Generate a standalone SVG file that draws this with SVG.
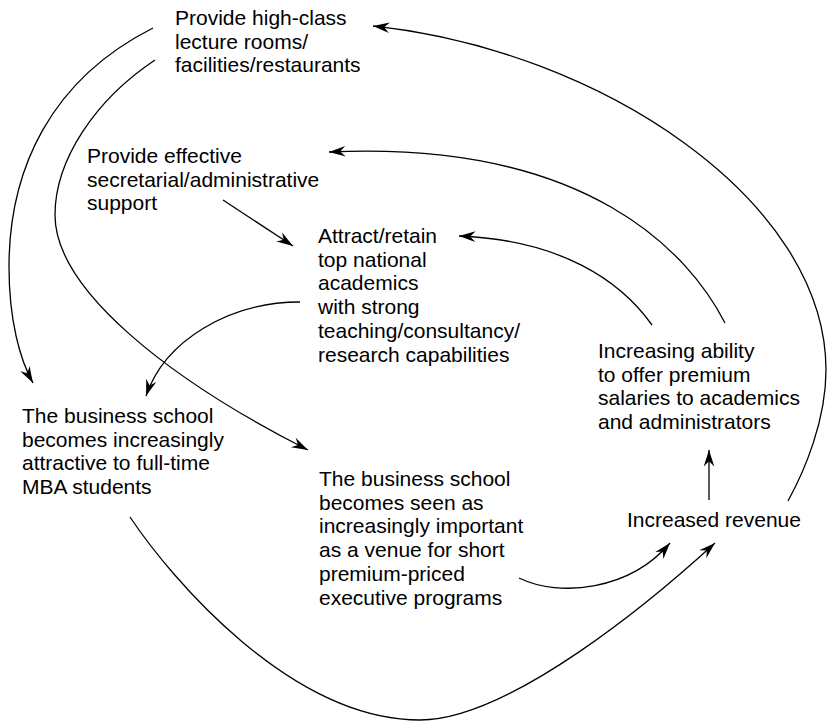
<svg xmlns="http://www.w3.org/2000/svg" width="827" height="723" viewBox="0 0 827 723">
<style>
  text { font-family: "Liberation Sans", Arial, Helvetica, sans-serif; font-size: 21px; fill: #000; }
  .c { fill: none; stroke: #000; stroke-width: 1.3; marker-end: url(#ah); }
</style>
<defs>
  <marker id="ah" markerUnits="userSpaceOnUse" markerWidth="20" markerHeight="20" viewBox="-15 -8 17 16" refX="0" refY="0" orient="auto">
    <path d="M0,0 L-14,-4.5 L-9.5,0 L-14,4.5 Z" fill="#000"/>
  </marker>
</defs>
<rect width="827" height="723" fill="#fff"/>
<g id="connectors">
  <path class="c" d="M153,28 C50,80 9,170 9,267 C9,320 20,360 33,383"/>
  <path class="c" d="M155,60 C95,100 55,160 55,215 C55,290 170,380 308,450"/>
  <path class="c" d="M223,200 L293,246"/>
  <path class="c" d="M300,302 C230,302 165,340 146,396"/>
  <path class="c" d="M652,325 C620,280 560,240 459,236"/>
  <path class="c" d="M725,323 C690,255 590,140 329,152"/>
  <path class="c" d="M788,501 C805,470 826,420 826,370 C826,200 600,50 373,26"/>
  <path class="c" d="M709,500 L709,450"/>
  <path class="c" d="M519,578 C560,598 630,590 670,543"/>
  <path class="c" d="M130,517 C170,577 290,720 420,720 C510,720 655,598 715,543"/>
</g>
<g id="n1">
  <text x="175" y="25">Provide high-class</text>
  <text x="175" y="48.7">lecture rooms/</text>
  <text x="175" y="72.4">facilities/restaurants</text>
</g>
<g id="n2">
  <text x="87" y="163">Provide effective</text>
  <text x="87" y="186.7">secretarial/administrative</text>
  <text x="87" y="210.4">support</text>
</g>
<g id="n3">
  <text x="318" y="243">Attract/retain</text>
  <text x="318" y="266.7">top national</text>
  <text x="318" y="290.4">academics</text>
  <text x="318" y="314.1">with strong</text>
  <text x="318" y="337.8">teaching/consultancy/</text>
  <text x="318" y="361.5">research capabilities</text>
</g>
<g id="n4">
  <text x="598" y="358">Increasing ability</text>
  <text x="598" y="381.7">to offer premium</text>
  <text x="598" y="405.4">salaries to academics</text>
  <text x="598" y="429.1">and administrators</text>
</g>
<g id="n5">
  <text x="22" y="423">The business school</text>
  <text x="22" y="446.7">becomes increasingly</text>
  <text x="22" y="470.4">attractive to full-time</text>
  <text x="22" y="494.1">MBA students</text>
</g>
<g id="n6">
  <text x="319" y="486">The business school</text>
  <text x="319" y="509.7">becomes seen as</text>
  <text x="319" y="533.4">increasingly important</text>
  <text x="319" y="557.1">as a venue for short</text>
  <text x="319" y="580.8">premium-priced</text>
  <text x="319" y="604.5">executive programs</text>
</g>
<g id="n7">
  <text x="627" y="527">Increased revenue</text>
</g>
</svg>
